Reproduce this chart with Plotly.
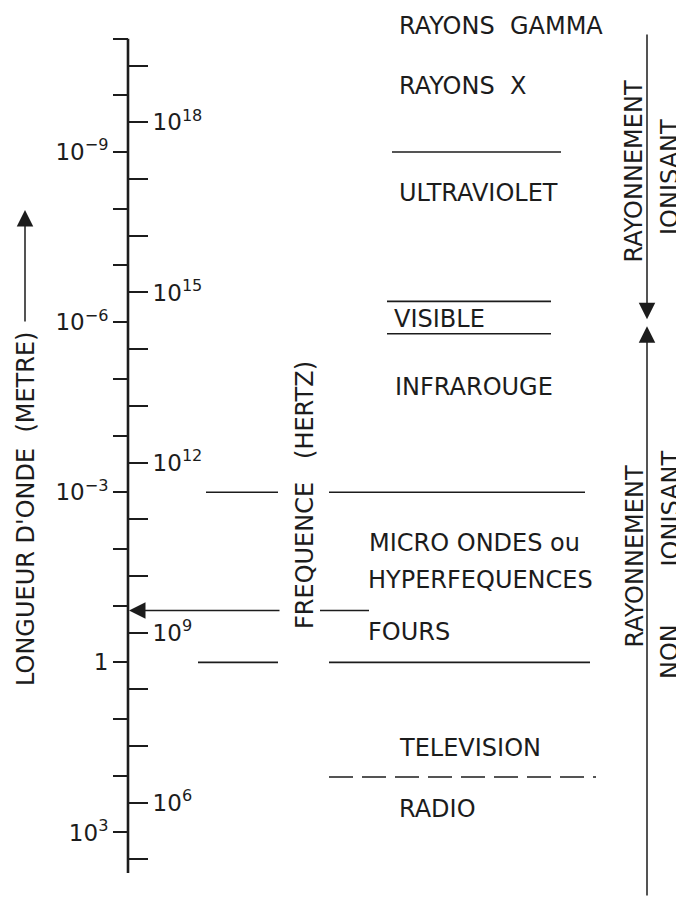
import numpy as np
import plotly.graph_objects as go

# ---------------- data ----------------
speed_of_light = 2.998e8  # m/s

wavelength_tick_exponents = list(range(-11, 4))      # 1e-11 m ... 1e3 m
wavelength_label_exponents = [-9, -6, -3, 0, 3]
frequency_tick_exponents = list(range(5, 20))       # 1e5 Hz ... 1e19 Hz
frequency_label_exponents = [18, 15, 12, 9, 6]

axis_extent_m = [1e-11, 5.2e3]                       # extent of the drawn scale

band_labels = ["RAYONS\u00a0\u00a0GAMMA", "RAYONS\u00a0\u00a0X", "ULTRAVIOLET", "VISIBLE",
               "INFRAROUGE", "MICRO ONDES ou", "HYPERFEQUENCES", "FOURS",
               "TELEVISION", "RADIO"]

# band boundaries (wavelength, metres)
boundary_xray_uv = 1e-9
boundary_uv_visible = 4.3e-7
boundary_visible_ir = 1.6e-6
boundary_ir_micro = 1e-3
four_wavelength = 0.122
boundary_micro_tv = 1.0
boundary_tv_radio = 105.0
ionising_limit = 1e-6

# ---------------- layout constants ----------------
W, H = 684, 906
OFF = 8                  # page offset of the figure (body margin)
AXIS_X = 128
PX_LAMBDA1 = 662.34      # page pixel row of 1 m
PX_PER_DECADE = 56.7
INK = "#1c1c1c"
FONT = "DejaVu Sans"


def py(px):
    """page pixel row -> paper fraction"""
    return 1 - (px - OFF) / H


fig_lambda1 = PX_LAMBDA1 - OFF
y_range = [(H - fig_lambda1) / PX_PER_DECADE, -fig_lambda1 / PX_PER_DECADE]
log_c = np.log10(speed_of_light)
y2_range = [log_c - y_range[0], log_c - y_range[1]]
x_range = [OFF, W + OFF]

fig = go.Figure()

# main scale line
fig.add_trace(go.Scatter(x=[AXIS_X, AXIS_X], y=axis_extent_m, mode="lines",
                         line=dict(color=INK, width=2.6), hoverinfo="skip"))

# solid boundary segments: (wavelength, [(x0, x1), ...])
solid_segments = [
    (boundary_xray_uv, [(392, 561)]),
    (boundary_uv_visible, [(387, 551)]),
    (boundary_visible_ir, [(387, 551)]),
    (boundary_ir_micro, [(206, 278), (329, 585)]),
    (four_wavelength, [(320, 369)]),
    (boundary_micro_tv, [(198, 278), (329, 590)]),
]
xs, ys = [], []
for wl, segs in solid_segments:
    for x0, x1 in segs:
        xs += [x0, x1, None]
        ys += [wl, wl, None]
fig.add_trace(go.Scatter(x=xs, y=ys, mode="lines", line=dict(color=INK, width=1.6),
                         hoverinfo="skip", connectgaps=False))

# dashed TV / radio boundary
fig.add_trace(go.Scatter(x=[329, 596], y=[boundary_tv_radio, boundary_tv_radio], mode="lines",
                         line=dict(color=INK, width=1.6, dash="24px,9px"), hoverinfo="skip"))

# invisible trace on the frequency axis
fig.add_trace(go.Scatter(x=[AXIS_X, AXIS_X],
                         y=[10.0 ** frequency_tick_exponents[0], 10.0 ** frequency_tick_exponents[-1]],
                         yaxis="y2", mode="markers", marker=dict(opacity=0), hoverinfo="skip"))


def sup_label(e):
    if e == 0:
        return "1"
    s = str(e).replace("-", "\u2212")
    return f"10<sup>{s}</sup>"


tickfont = dict(family=FONT, size=23, color=INK)


def axis_cfg(label_exps, all_exps, side, ticklen, rng):
    return dict(
        type="log", range=rng, anchor="free", position=(AXIS_X - OFF) / W, side=side,
        showline=False, showgrid=False, zeroline=False,
        ticks="outside", ticklen=ticklen, tickwidth=2, tickcolor=INK,
        tickmode="array", tickvals=[10.0 ** e for e in label_exps],
        ticktext=[sup_label(e) for e in label_exps],
        minor=dict(ticks="outside", ticklen=ticklen, tickwidth=2, tickcolor=INK,
                   tickmode="array", tickvals=[10.0 ** e for e in all_exps], showgrid=False),
        tickfont=tickfont, automargin=False, fixedrange=True,
    )


fig.update_layout(
    width=W, height=H, margin=dict(l=0, r=0, t=0, b=0),
    template="none", paper_bgcolor="white", plot_bgcolor="white", showlegend=False,
    xaxis=dict(range=x_range, visible=False, domain=[0, 1], fixedrange=True),
    yaxis=axis_cfg(wavelength_label_exponents, wavelength_tick_exponents, "left", 15, y_range),
    yaxis2=dict(overlaying="y",
                **axis_cfg(frequency_label_exponents, frequency_tick_exponents, "right", 19, y2_range)),
)

annotations = []
label_font = dict(family=FONT, size=24, color=INK)

# horizontal band labels (left x px, centre y px)
label_pos = [(397, 24.7), (397, 84), (397, 191), (392, 317), (393, 385),
             (367, 541.7), (366, 578), (366, 630.5), (397, 746), (397, 807.5)]
for txt, (lx, cy) in zip(band_labels, label_pos):
    annotations.append(dict(text=txt, x=lx, y=py(cy + 1.5), xref="x", yref="paper",
                            xanchor="left", yanchor="middle", showarrow=False, font=label_font))

# rotated labels (centre x px, centre y px)
rot_labels = [
    ("LONGUEUR D'ONDE\u00a0\u00a0(METRE)", 26, 509),
    ("FREQUENCE\u00a0\u00a0\u00a0(HERTZ)", 305, 495),
    ("RAYONNEMENT", 634, 171.5),
    ("IONISANT", 670, 177),
    ("RAYONNEMENT", 634, 556.5),
    ("IONISANT", 670, 508.5),
    ("NON", 670, 652),
]
for txt, cx, cy in rot_labels:
    annotations.append(dict(text=txt, x=cx, y=py(cy), xref="x", yref="paper",
                            xanchor="center", yanchor="middle", textangle=-90,
                            showarrow=False, font=label_font))

arrow_style = dict(showarrow=True, arrowhead=2, arrowsize=2.2, arrowwidth=1.5,
                   arrowcolor=INK, text="")
# oven arrow pointing to the scale
annotations.append(dict(x=AXIS_X + 1, y=np.log10(four_wavelength), xref="x", yref="y",
                        ax=281, ay=np.log10(four_wavelength), axref="x", ayref="y", **arrow_style))
# wavelength direction arrow
annotations.append(dict(x=25, y=py(210), xref="x", yref="paper", ax=0, ay=113, **arrow_style))
# ionising / non-ionising arrows
lim_px = PX_LAMBDA1 + PX_PER_DECADE * np.log10(ionising_limit)
annotations.append(dict(x=647, y=py(lim_px - 3), xref="x", yref="paper", ax=0,
                        ay=33 - (lim_px - 3), **arrow_style))
annotations.append(dict(x=647, y=py(lim_px + 4), xref="x", yref="paper", ax=0,
                        ay=897 - (lim_px + 4), **arrow_style))

fig.update_layout(annotations=annotations)
fig.write_html("out.html")
